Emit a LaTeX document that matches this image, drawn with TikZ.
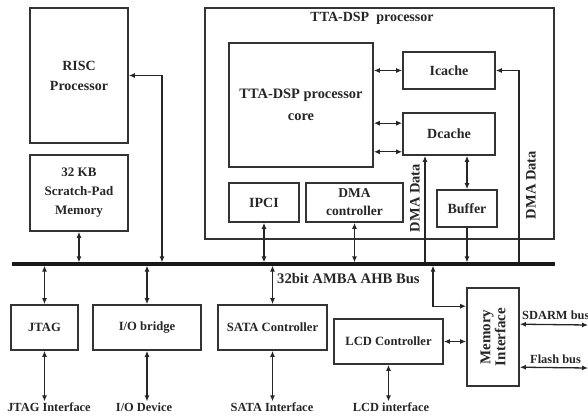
\documentclass[tikz,border=0pt]{standalone}
\usepackage{fontspec}
\setmainfont{Liberation Serif}
\usetikzlibrary{arrows.meta,calc}
\newcommand{\fs}[2]{\fontsize{#1}{#2}\selectfont\bfseries}
\begin{document}
\begin{tikzpicture}[x=1pt,y=-1pt,
  box/.style={draw=black!80, line width=1.6pt, inner sep=0pt, align=center,
    text=black!85, font=\fs{14}{20}},
  lbl/.style={inner sep=1pt, align=center, text=black!85, font=\fs{12.4}{15}},
  wire/.style={draw=black!85, line width=1.3pt},
  dbl/.style={wire, {Latex[length=6pt,width=5pt]}-{Latex[length=6pt,width=5pt]}},
  one/.style={wire, -{Latex[length=6pt,width=5pt]}}]
\useasboundingbox (0,0) rectangle (588,416);

% ---- system bus
\coordinate (busL) at (12,264);
\coordinate (busR) at (555,264);
\coordinate (busT) at (0,262.4);
\coordinate (busB) at (0,265.6);
\draw[black!90, line width=3.2pt] (busL) -- (busR);
\node[lbl, anchor=west, font=\fs{14.6}{17}] (buslbl) at (276,279) {32bit AMBA AHB Bus};

% ---- RISC side
\node[box, minimum width=98, minimum height=135] (risc) at (79,75.5) {RISC\\Processor};
\node[box, minimum width=98, minimum height=76, font=\fs{13}{19}] (spm) at (79,193) {32 KB\\Scratch-Pad\\Memory};

% ---- TTA-DSP processor
\node[box, minimum width=349, minimum height=231] (tta) at (379.5,123.5) {};
\node[lbl, font=\fs{14}{17}] (ttatitle) at (372,18) {TTA-DSP\ \ processor};
\node[box, minimum width=144, minimum height=124, font=\fs{14.4}{22}] (core) at (301,105) {TTA-DSP processor\\core};
\node[box, minimum width=92, minimum height=37] (icache) at (449,70.5) {Icache};
\node[box, minimum width=92, minimum height=42] (dcache) at (449,134) {Dcache};
\node[box, minimum width=60, minimum height=37] (buffer) at (467,208.5) {Buffer};
\node[box, minimum width=70, minimum height=39] (ipci) at (264,202.5) {IPCI};
\node[box, minimum width=97, minimum height=39, font=\fs{13.5}{18}] (dmac) at (354.5,202.5) {DMA\\controller};
\node[lbl, rotate=90, font=\fs{14.5}{17}] (dmalbl1) at (415,198) {DMA Data};
\node[lbl, rotate=90, font=\fs{14.5}{17}] (dmalbl2) at (531,185) {DMA Data};

% ---- peripherals
\node[box, minimum width=67, minimum height=45, font=\fs{12.6}{15}] (jtag) at (44.5,327.5) {JTAG};
\node[box, minimum width=108, minimum height=45, font=\fs{12.6}{15}] (iob) at (147,327.5) {I/O bridge};
\node[box, minimum width=109, minimum height=45, font=\fs{12.6}{15}] (sata) at (272.5,327.5) {SATA Controller};
\node[box, minimum width=109, minimum height=45, font=\fs{12.6}{15}] (lcd) at (388.5,341.5) {LCD Controller};
\node[box, minimum width=52, minimum height=98] (memif) at (493,337) {};
\node[lbl, rotate=90, font=\fs{15}{15}] (memiflbl) at (memif.center) {Memory\\Interface};

\node[lbl] (jtagif) at (49,407) {JTAG Interface};
\node[lbl] (iodev) at (144,407) {I/O Device};
\node[lbl] (sataif) at (272,407) {SATA Interface};
\node[lbl] (lcdif) at (391,407) {LCD interface};
\node[lbl, anchor=west] (sdarm) at (521,315) {SDARM bus};
\node[lbl, anchor=west] (flash) at (529,359) {Flash bus};

% ---- free ends of the buses
\coordinate (riscdrop) at (162,262.4);
\coordinate (dmaL) at (425,262.4);
\coordinate (dmaR) at (519,262.4);
\coordinate (memtap) at (433,265.6);
\coordinate (sdarmEnd) at (588,325);
\coordinate (flashEnd) at (588,368);

% ---- connections to the bus
\draw[dbl] (risc.east) -| (riscdrop);
\draw[dbl] (spm.south) -- (spm.south |- busT);
\draw[dbl] (ipci.south) -- (ipci.south |- busT);
\draw[dbl] (dmac.south) -- (dmac.south |- busT);
\draw[one] (buffer.south) -- (buffer.south |- busT);
\draw[one] (dmaL) -- (dmaL |- dcache.south);
\draw[one] (dmaR) |- (icache.east);
\draw[dbl] (memtap) |- ($(memif.north west)+(0,19)$);
\draw[dbl] (jtag.north) -- (jtag.north |- busB);
\draw[dbl] (iob.north) -- (iob.north |- busB);
\draw[dbl] (sata.north) -- (sata.north |- busB);

% ---- inside the TTA-DSP processor
\draw[dbl] (core.east |- icache.west) -- (icache.west);
\draw[dbl] (core.east |- {$(dcache.north west)+(0,11)$}) -- ($(dcache.north west)+(0,11)$);
\draw[dbl] (core.east |- {$(dcache.south west)+(0,-4)$}) -- ($(dcache.south west)+(0,-4)$);
\draw[dbl] (buffer.north) -- (buffer.north |- dcache.south);

% ---- external interfaces
\draw[dbl] (jtag.south) -- (jtagif.north -| jtag.south);
\draw[dbl] (iob.south) -- (iodev.north -| iob.south);
\draw[dbl] (sata.south) -- (sataif.north -| sata.south);
\draw[dbl] (lcd.south) -- (lcdif.north -| lcd.south);
\draw[dbl] (lcd.east) -- (lcd.east -| memif.west);
\draw[dbl] ($(memif.north east)+(0,37)$) -- (sdarmEnd);
\draw[dbl] ($(memif.north east)+(0,80)$) -- (flashEnd);
\end{tikzpicture}
\end{document}
